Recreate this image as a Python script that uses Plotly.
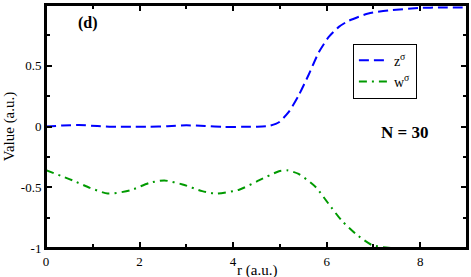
import plotly.graph_objects as go

# z^sigma (blue dashed)
r_z = [0.0, 0.35, 0.7, 1.1, 1.5, 1.9, 2.2, 2.6, 3.0, 3.4, 3.8, 4.2, 4.5, 4.77, 4.98, 5.19, 5.40, 5.62, 5.83, 6.04, 6.26, 6.47, 6.89, 7.32, 7.96, 8.5, 9.0]
z_vals = [0.0, 0.008, 0.012, 0.004, -0.003, -0.002, -0.003, 0.002, 0.01, 0.004, -0.003, -0.003, -0.002, 0.005, 0.035, 0.12, 0.255, 0.43, 0.61, 0.735, 0.82, 0.87, 0.93, 0.955, 0.975, 0.98, 0.98]

# w^sigma (green dash-dot)
r_w = [0.0, 0.57, 0.94, 1.32, 1.79, 2.21, 2.53, 2.92, 3.34, 3.64, 4.13, 4.55, 4.98, 5.15, 5.40, 5.77, 6.04, 6.32, 6.62, 6.96, 7.32, 8.0, 9.0]
w_vals = [-0.36, -0.444, -0.505, -0.552, -0.527, -0.464, -0.444, -0.477, -0.532, -0.552, -0.52, -0.444, -0.368, -0.36, -0.39, -0.50, -0.636, -0.774, -0.883, -0.974, -0.998, -1.0, -1.0]

x_ticks = [0, 2, 4, 6, 8]
x_minor_ticks = [1, 3, 5, 7]
y_ticks = [-1, -0.5, 0, 0.5, 1]
y_tick_text = ["-1", "-0.5", "0", "0.5", "1"]
y_minor_ticks = [-0.75, -0.25, 0.25, 0.75]
x_range = [0, 9]
y_range = [-1, 1]

serif = "Liberation Serif"

fig = go.Figure()
fig.add_trace(go.Scatter(x=r_z, y=z_vals, mode="lines", name="z<sup>σ</sup>",
                         line=dict(color="#0000ff", width=2, dash="10px,5px", shape="spline", smoothing=0.6)))
fig.add_trace(go.Scatter(x=r_w, y=w_vals, mode="lines", name="w<sup>σ</sup>",
                         line=dict(color="#009a00", width=2, dash="8px,5px,2px,5px", shape="spline", smoothing=0.6)))
# invisible copy so the minor-tick axes (x2/y2) get drawn
fig.add_trace(go.Scatter(x=r_z, y=z_vals, mode="lines", xaxis="x2", yaxis="y2",
                         line=dict(color="rgba(0,0,0,0)"), showlegend=False, hoverinfo="skip"))

major = dict(ticks="inside", ticklen=6, tickwidth=2, tickcolor="black", mirror="allticks",
             showgrid=False, zeroline=False, showline=True, linecolor="black", linewidth=2,
             layer="above traces",
             tickfont=dict(family=serif, size=13, color="black"))
minor = dict(ticks="inside", ticklen=4, tickwidth=2, tickcolor="black", mirror="allticks",
             showgrid=False, zeroline=False, showline=False, showticklabels=False,
             layer="above traces")

fig.update_layout(
    xaxis=dict(range=x_range, tickvals=x_ticks, **major),
    yaxis=dict(range=y_range, tickvals=y_ticks, ticktext=y_tick_text,
               title=dict(text="Value (a.u.)", font=dict(family=serif, size=15, color="black"), standoff=3),
               **major),
    xaxis2=dict(range=x_range, tickvals=x_minor_ticks, overlaying="x", side="bottom", anchor="y2", **minor),
    yaxis2=dict(range=y_range, tickvals=y_minor_ticks, overlaying="y", side="left", anchor="x2", **minor),
)

fig.add_shape(type="rect", xref="paper", yref="paper", x0=0, y0=0, x1=1, y1=1,
              line=dict(color="black", width=2), fillcolor="rgba(0,0,0,0)", layer="above")

fig.add_annotation(x=0.5, y=0, xref="paper", yref="paper", yanchor="middle", yshift=-22,
                   text="r (a.u.)", showarrow=False,
                   font=dict(family=serif, size=15, color="black"))
fig.add_annotation(x=0.9, y=0.85, xref="x", yref="y", text="<b>(d)</b>", showarrow=False,
                   font=dict(family=serif, size=16, color="black"))
fig.add_annotation(x=7.66, y=-0.05, xref="x", yref="y", text="<b>N = 30</b>", showarrow=False,
                   font=dict(family=serif, size=17, color="black"))

fig.update_layout(
    width=471, height=277,
    margin=dict(l=46, r=4, t=5, b=29, autoexpand=False),
    plot_bgcolor="white", paper_bgcolor="white",
    legend=dict(x=0.805, y=0.728, xanchor="center", yanchor="middle",
                bordercolor="black", borderwidth=1, bgcolor="white",
                font=dict(family=serif, size=14, color="black"),
                itemwidth=30, tracegroupgap=0),
    showlegend=True,
)

fig.write_html("out.html", config={"displayModeBar": False},
               post_script="document.body.style.margin='0';document.body.style.padding='0';")
